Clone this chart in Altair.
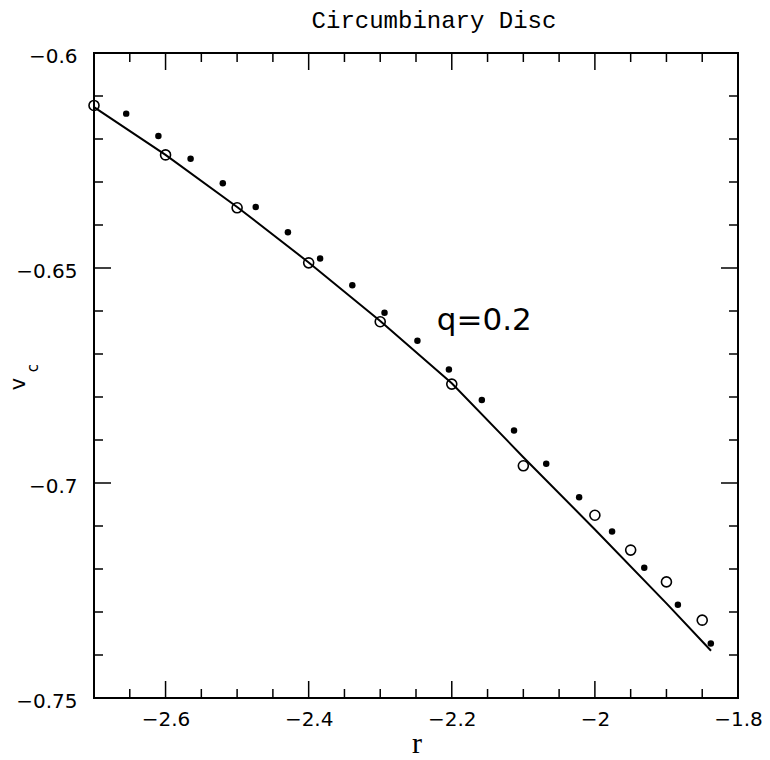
import altair as alt
import pandas as pd

# ---- data ----
open_r = [-2.7, -2.6, -2.5, -2.4, -2.3, -2.2, -2.1, -2.0, -1.95, -1.9, -1.85]
open_v = [-0.6122, -0.6237, -0.6360, -0.6488, -0.6625, -0.6770, -0.6960, -0.7075, -0.7156, -0.7230, -0.7319]

fill_r = [-2.655, -2.610, -2.565, -2.520, -2.474, -2.429, -2.384, -2.339, -2.294, -2.248,
          -2.204, -2.158, -2.113, -2.068, -2.022, -1.976, -1.931, -1.884, -1.838]
fill_v = [-0.6141, -0.6193, -0.6246, -0.6303, -0.6358, -0.6417, -0.6478, -0.6540, -0.6604, -0.6669,
          -0.6736, -0.6807, -0.6878, -0.6955, -0.7033, -0.7113, -0.7197, -0.7283, -0.7373]

line_r = [-2.7, -2.6, -2.5, -2.4, -2.3, -2.2, -2.1, -2.0, -1.9, -1.8377]
line_v = [-0.6126, -0.6237, -0.6358, -0.6487, -0.6623, -0.6768, -0.6940, -0.7108, -0.7280, -0.7390]

x_labels = [-2.6, -2.4, -2.2, -2.0, -1.8]
y_labels = [-0.75, -0.7, -0.65, -0.6]
x_major = [-2.6, -2.4, -2.2, -2.0]
x_minor = [-2.65, -2.55, -2.5, -2.45, -2.35, -2.3, -2.25, -2.15, -2.1, -2.05, -1.95, -1.9, -1.85]
y_major = [-0.65, -0.7]
y_minor = [-0.74, -0.73, -0.72, -0.71, -0.69, -0.68, -0.67, -0.66, -0.64, -0.63, -0.62, -0.61]

title_text = "Circumbinary Disc"
annot_text = "q=0.2"
annot_r = -2.221
annot_v = -0.6644

# ---- layout ----
W, H = 644, 645
MAJ, MIN = 17, 9
xscale = alt.Scale(domain=[-2.7, -1.8], nice=False, zero=False)
yscale = alt.Scale(domain=[-0.75, -0.6], nice=False, zero=False)

df_open = pd.DataFrame({"r": open_r, "v": open_v})
df_fill = pd.DataFrame({"r": fill_r, "v": fill_v})
df_line = pd.DataFrame({"r": line_r, "v": line_v})

xaxis = alt.Axis(values=x_labels, format=".2~f", ticks=False, domain=False, grid=False,
                 labelFont="DejaVu Sans", labelFontSize=20, labelColor="black",
                 labelPadding=11, labelFlush=False, labelOverlap=False, title=None)
yaxis = alt.Axis(values=y_labels, format=".2~f", ticks=False, domain=False, grid=False,
                 labelFont="DejaVu Sans", labelFontSize=20, labelColor="black",
                 labelPadding=17, labelFlush=False, labelOverlap=False, labelOffset=3, title=None)

X = lambda f: alt.X(f, scale=xscale, axis=xaxis)
Y = lambda f: alt.Y(f, scale=yscale, axis=yaxis)

line = alt.Chart(df_line).mark_line(color="black", strokeWidth=2).encode(x=X("r:Q"), y=Y("v:Q"))
opens = alt.Chart(df_open).mark_point(shape="circle", filled=False, color="black",
                                       size=100, strokeWidth=1.6, opacity=1).encode(x=X("r:Q"), y=Y("v:Q"))
fills = alt.Chart(df_fill).mark_circle(color="black", size=42, opacity=1).encode(x=X("r:Q"), y=Y("v:Q"))

def xticks(vals, length):
    d = pd.DataFrame({"t": vals})
    bot = alt.Chart(d).mark_rule(color="black", strokeWidth=1.5).encode(
        x=X("t:Q"), y=alt.value(H), y2=alt.value(H - length))
    top = alt.Chart(d).mark_rule(color="black", strokeWidth=1.5).encode(
        x=X("t:Q"), y=alt.value(0), y2=alt.value(length))
    return [bot, top]

def yticks(vals, length):
    d = pd.DataFrame({"t": vals})
    left = alt.Chart(d).mark_rule(color="black", strokeWidth=1.5).encode(
        y=Y("t:Q"), x=alt.value(0), x2=alt.value(length))
    right = alt.Chart(d).mark_rule(color="black", strokeWidth=1.5).encode(
        y=Y("t:Q"), x=alt.value(W), x2=alt.value(W - length))
    return [left, right]

ticks = xticks(x_major, MAJ) + xticks(x_minor, MIN) + yticks(y_major, MAJ) + yticks(y_minor, MIN)

annot = alt.Chart(pd.DataFrame({"r": [annot_r], "v": [annot_v], "t": [annot_text]})).mark_text(
    font="DejaVu Sans", fontSize=31, align="left", baseline="alphabetic", color="black"
).encode(x=X("r:Q"), y=Y("v:Q"), text="t:N")

title = alt.Chart(pd.DataFrame({"t": [title_text]})).mark_text(
    font="Liberation Mono", fontSize=24, align="center", baseline="alphabetic", color="black"
).encode(x=alt.value(340), y=alt.value(-25), text="t:N")

xtitle = alt.Chart(pd.DataFrame({"t": ["r"]})).mark_text(
    font="Liberation Serif", fontSize=30, align="center", baseline="alphabetic", color="black"
).encode(x=alt.value(323), y=alt.value(700), text="t:N")

ytitle_v = alt.Chart(pd.DataFrame({"t": ["v"]})).mark_text(
    font="DejaVu Sans", fontSize=21, align="center", baseline="alphabetic", color="black", angle=270
).encode(x=alt.value(-69), y=alt.value(331), text="t:N")

ytitle_c = alt.Chart(pd.DataFrame({"t": ["c"]})).mark_text(
    font="DejaVu Sans", fontSize=15, align="center", baseline="alphabetic", color="black", angle=270
).encode(x=alt.value(-56), y=alt.value(315), text="t:N")

chart = alt.layer(line, opens, fills, *ticks, annot, title, xtitle, ytitle_v, ytitle_c).properties(
    width=W, height=H,
    autosize=alt.AutoSizeParams(type="none"),
    padding={"left": 94, "top": 53, "right": 32, "bottom": 62},
    background="white",
).configure_view(stroke="black", strokeWidth=2)

chart.save("out.html", embed_options={"renderer": "svg", "actions": False})
